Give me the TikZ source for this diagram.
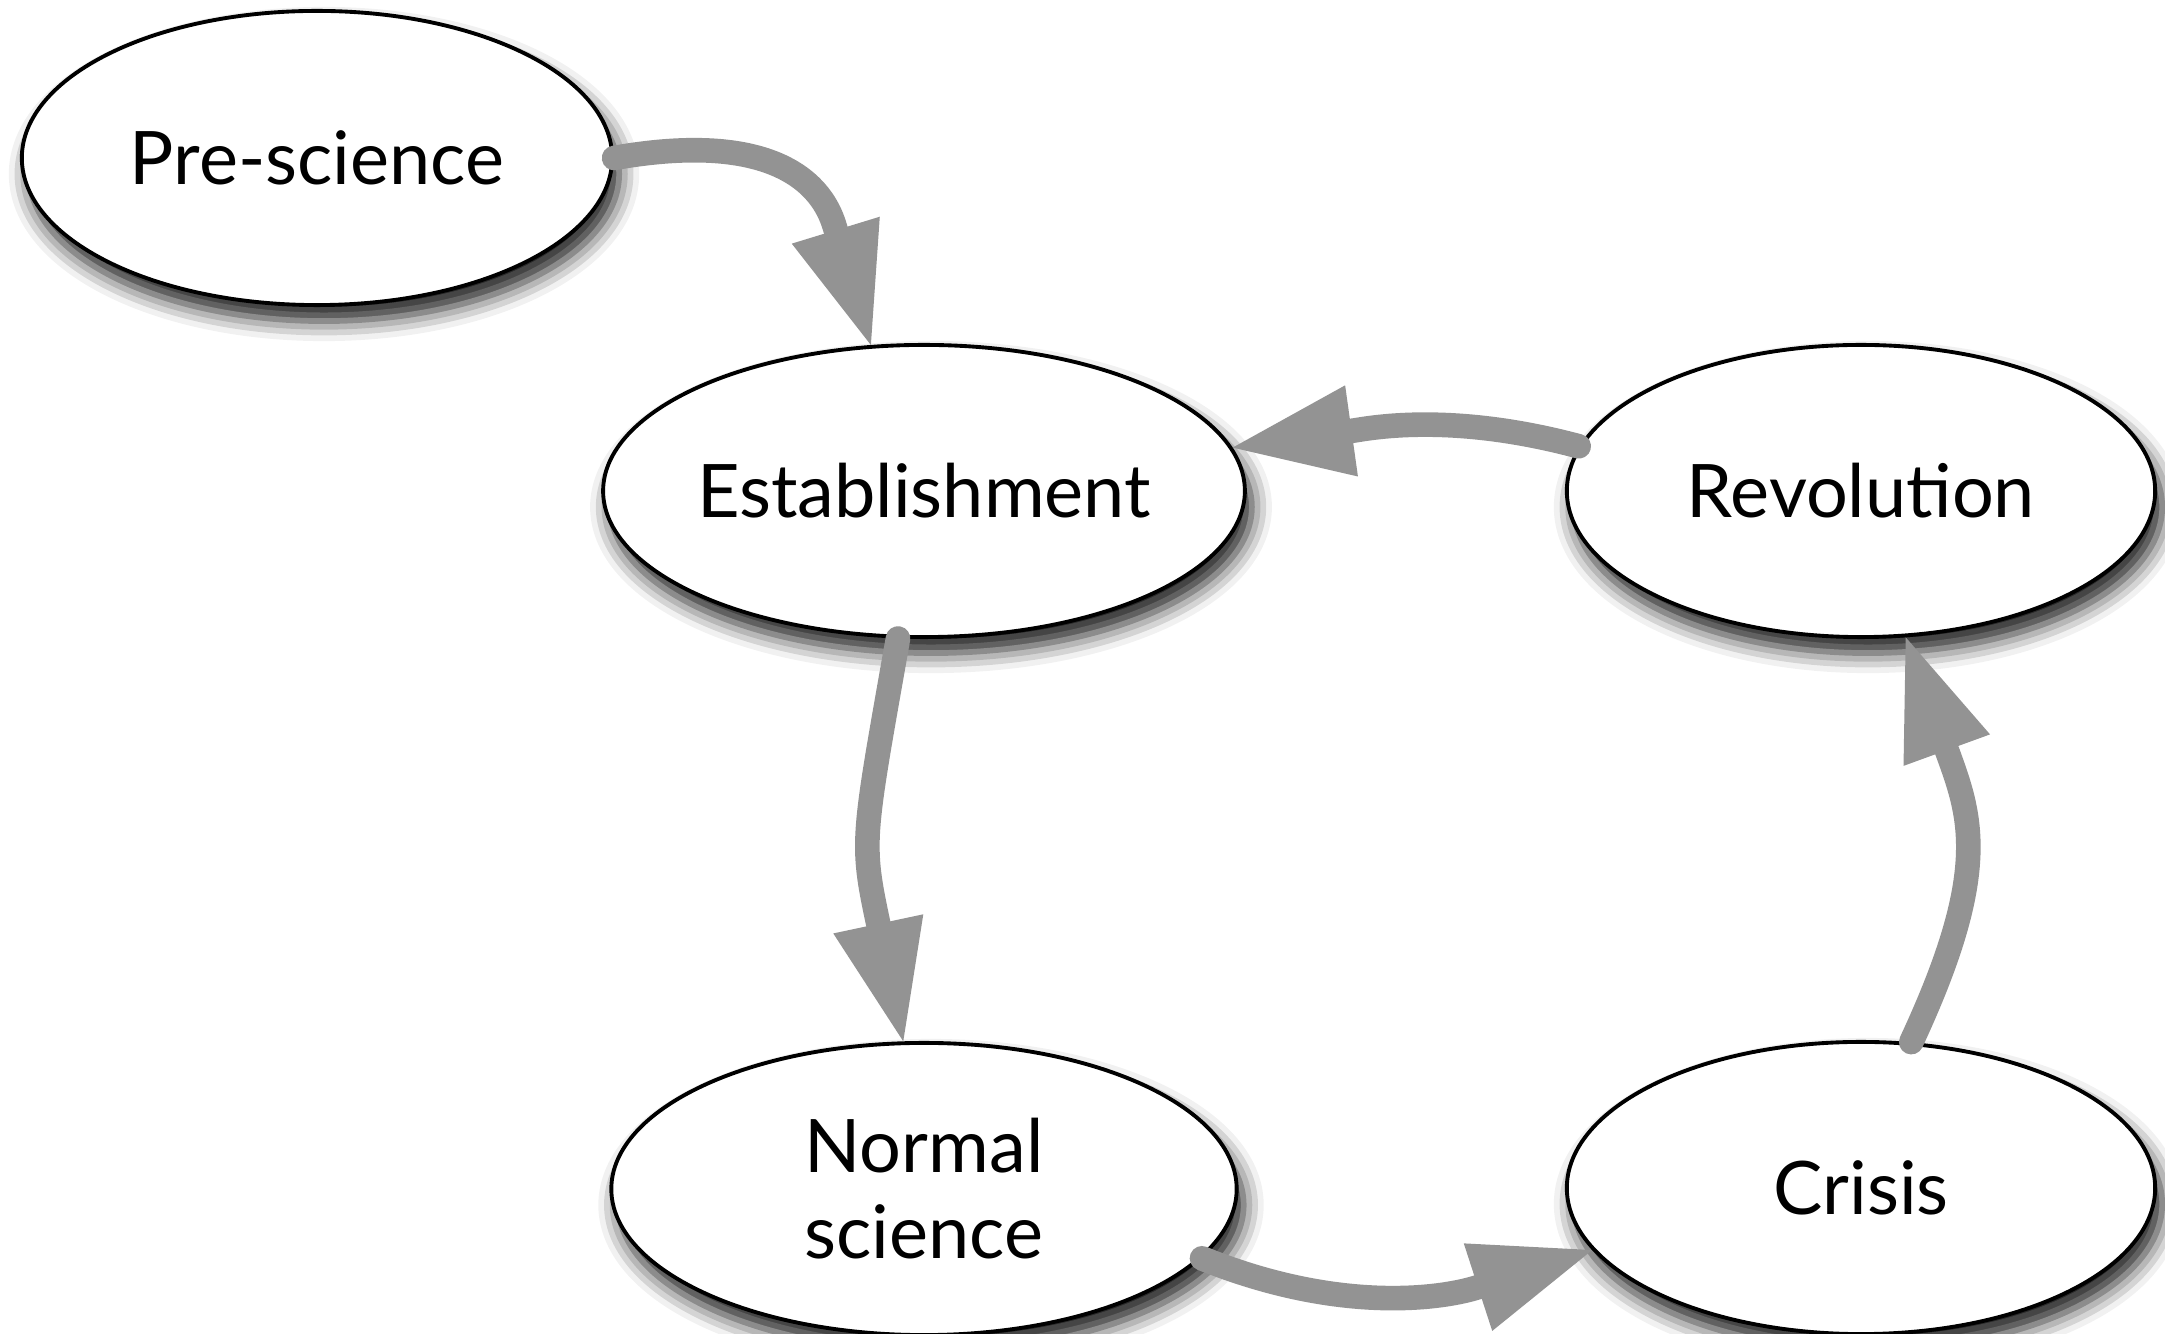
\documentclass[tikz,border=0pt]{standalone}
\usepackage{fontspec}
\setmainfont{Lato}
\usetikzlibrary{shapes.geometric,shadows.blur,arrows.meta}
\definecolor{flowgray}{HTML}{939393}

\begin{document}
\begin{tikzpicture}[x=0.01cm,y=0.01cm,
	stage/.style={ellipse,draw,line width=1.1pt,fill=white,inner sep=0pt,align=center,
		minimum height=2.92cm,font=\fontsize{21}{24.5}\selectfont,
		blur shadow={shadow xshift=0.07cm,shadow yshift=-0.16cm,shadow blur radius=0.2cm,shadow opacity=90}},
	flow/.style={draw=flowgray,line width=7pt,line cap=round,
		-{Triangle[length=1.2cm,width=0.92cm,line width=0pt]}}]
	\useasboundingbox (0,0) rectangle (2165,-1334);
	\node[stage,minimum width=5.9cm,minimum height=2.94cm] (pre) at (317,-158) {Pre-science};
	\node[stage,minimum width=6.25cm] (est) at (924,-491) {Establishment};
	\node[stage,minimum width=5.88cm] (rev) at (1861,-491) {Revolution};
	\node[stage,minimum width=6.25cm] (normal) at (924,-1189) {Normal\\science};
	\node[stage,minimum width=5.88cm] (crisis) at (1861,-1188) {Crisis};
	\draw[flow] (pre.east) to[out=10,in=107,out looseness=1.6,in looseness=1.1] (est.110);
	\draw[flow] (est.260) to[out=260,in=102,looseness=1.3] (normal.98);
	\draw[flow] (normal.-14) to[out=-22,in=198] (crisis.193);
	\draw[flow] (crisis.71) to[out=65,in=-70,looseness=1.2] (rev.-73);
	\draw[flow] (rev.171) to[out=165,in=8] (est.8);
\end{tikzpicture}
\end{document}
